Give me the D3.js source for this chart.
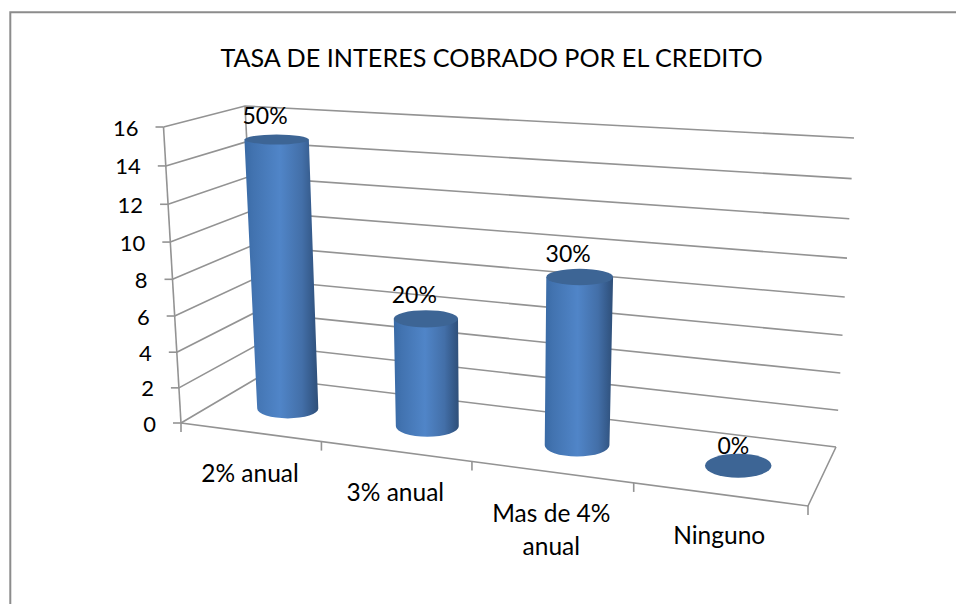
<!DOCTYPE html>
<html><head><meta charset="utf-8">
<script src="https://cdn.jsdelivr.net/npm/d3@7/dist/d3.min.js"></script>
<style>html,body{margin:0;padding:0;background:#fff}svg{display:block}text{font-family:Lato,"Open Sans",sans-serif;fill:#000}</style>
</head><body><div id="c"></div>
<script>
const titleText = "TASA DE INTERES COBRADO POR EL CREDITO";
const categories = ["2% anual", "3% anual", "Mas de 4% anual", "Ninguno"];
const categoryLines = [["2% anual"], ["3% anual"], ["Mas de 4%", "anual"], ["Ninguno"]];
const values = [15, 6, 9, 0];
const percentLabels = ["50%", "20%", "30%", "0%"];
const yTicks = [0, 2, 4, 6, 8, 10, 12, 14, 16];

const W = 956, H = 604;
const svg = d3.select("#c").append("svg").attr("width", W).attr("height", H);

// Chart box corners on screen: floor (v = 0) and ceiling (v = 16)
const floor = { fl: [181, 423], bl: [259, 377], br: [836, 447], fr: [808, 506] };
const ceil  = { fl: [163.5, 127], bl: [245, 106], br: [854, 138], fr: [828, 169] };

const yFrac = d3.scaleLinear().domain([0, 16]).range([0, 1]);
const xBand = d3.scaleBand().domain(categories).range([0, 1]);
const persp = (t, k) => t / (t + (1 - t) * k);
const mix = (a, b, t) => [a[0] + (b[0] - a[0]) * t, a[1] + (b[1] - a[1]) * t];

// u: along the category axis 0..1, w: depth 0 (front)..1 (back), v: value
function project(u, w, v) {
  const h = persp(yFrac(v), 1.06), p = persp(u, 1.155);
  const c = k => mix(floor[k], ceil[k], h);
  return mix(mix(c("fl"), c("fr"), p), mix(c("bl"), c("br"), p), w);
}

const grid = "#939393";
const line = d3.line();
const stroke = (pts, col = grid, sw = 1.6) => svg.append("path").attr("d", line(pts))
  .attr("fill", "none").attr("stroke", col).attr("stroke-width", sw);

// Frame
stroke([[10.3, H], [10.3, 12.3], [W, 12.3]], "#8c8c8c", 2);

// Title
svg.append("text").attr("x", 491.5).attr("y", 67).attr("text-anchor", "middle")
  .attr("font-size", 25.2).text(titleText);

// Gridlines on the side and back walls
yTicks.forEach(v => {
  stroke([project(0, 0, v), project(0, 1, v), project(1, 1, v)]);
});
// Axis edges
stroke([project(0, 0, 0), project(0, 0, 16)]);
stroke([project(0, 1, 0), project(0, 1, 16)]);
stroke([project(0, 0, 0), project(1, 0, 0), project(1, 1, 0)]);

// Value ticks and labels
yTicks.forEach(v => {
  const p = project(0, 0, v);
  stroke([[p[0] - 8, p[1]], p]);
  svg.append("text").attr("x", p[0] - 25).attr("y", p[1] + 8.5).attr("text-anchor", "end")
    .attr("font-size", 22).text(v);
});

// Category ticks and labels
d3.range(categories.length + 1).forEach(i => {
  const p = project(i / categories.length, 0, 0);
  stroke([p, [p[0], p[1] + 9]]);
});
categories.forEach((c, i) => {
  const u = xBand(c) + xBand.bandwidth() / 2;
  const p = project(u, 0, 0);
  categoryLines[i].forEach((t, j) => {
    svg.append("text").attr("x", p[0]).attr("y", p[1] + 50 + j * 33)
      .attr("text-anchor", "middle").attr("font-size", 24.5).text(t);
  });
});

// Cylinders
const defs = svg.append("defs");
const grad = defs.append("linearGradient").attr("id", "cyl").attr("x1", 0).attr("x2", 1).attr("y1", 0).attr("y2", 0);
[[0, "#396aa5"], [0.12, "#4273b0"], [0.48, "#5085c8"], [0.78, "#436fa8"], [0.92, "#355a8a"], [1, "#2f4f78"]]
  .forEach(s => grad.append("stop").attr("offset", s[0]).attr("stop-color", s[1]));

const dw = 0.21;
const disc = (u, v) => {
  const p = project(u, 0.5, v);
  const c = [p[0] + 1.5, p[1]];
  const rx = (project(1, 0.5, v)[0] - project(0, 0.5, v)[0]) * (0.05 + 0.006 * u);
  const ry = (project(u, 0, v)[1] - project(u, 1, v)[1]) * dw;
  return { c, rx, ry };
};

categories.forEach((cat, i) => {
  const u = xBand(cat) + xBand.bandwidth() / 2;
  const v = values[i];
  const b = disc(u, 0), t = disc(u, v);
  if (v > 0) {
    svg.append("path").attr("fill", "url(#cyl)").attr("d",
      `M${t.c[0] - t.rx},${t.c[1]}L${b.c[0] - b.rx},${b.c[1]}` +
      `A${b.rx},${b.ry} 0 0 0 ${b.c[0] + b.rx},${b.c[1]}` +
      `L${t.c[0] + t.rx},${t.c[1]}Z`);
  }
  svg.append("ellipse").attr("cx", t.c[0]).attr("cy", t.c[1]).attr("rx", t.rx).attr("ry", t.ry)
    .attr("fill", "#3d6595");
  svg.append("text").attr("x", t.c[0] + 11).attr("y", t.c[1] - (v > 0 ? 15.5 : 12))
    .attr("text-anchor", "end").attr("font-size", 23).text(percentLabels[i]);
});
</script></body></html>
